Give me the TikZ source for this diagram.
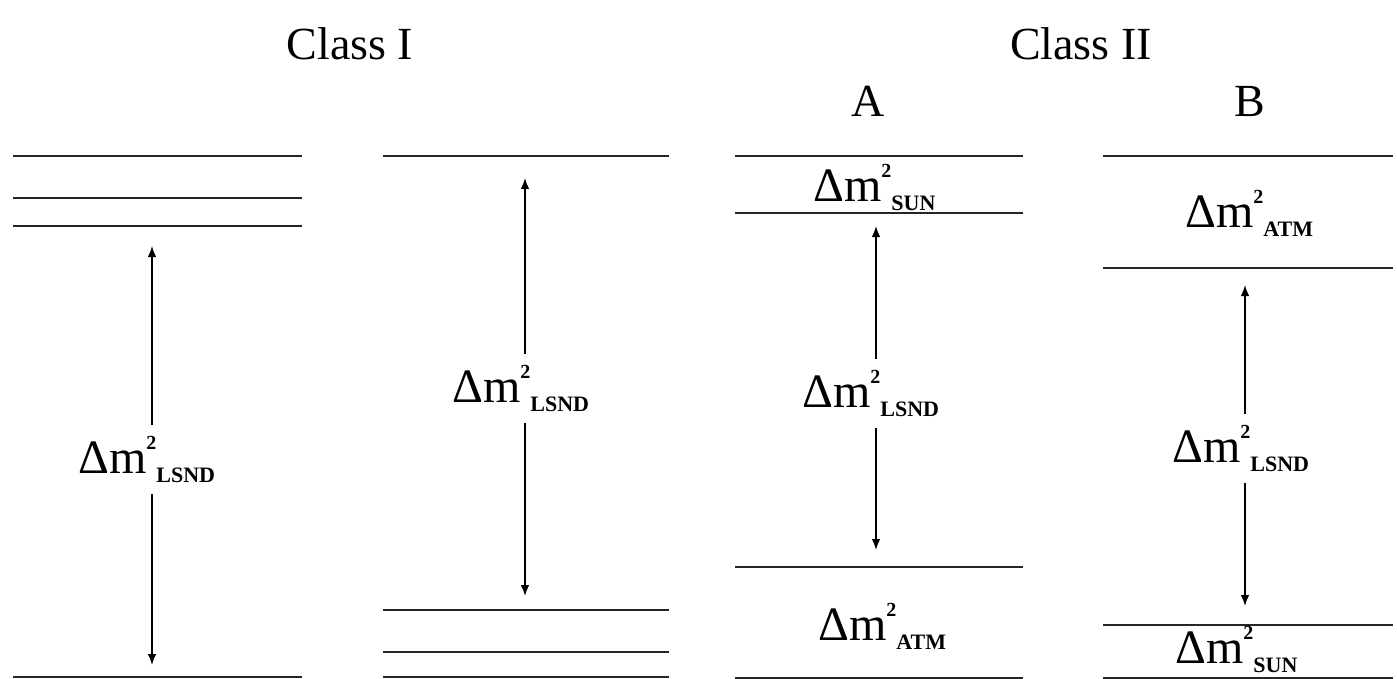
\documentclass[tikz,border=0pt]{standalone}
\usepackage{fontspec}
\setmainfont{Liberation Serif}
\usetikzlibrary{arrows.meta}
\newcommand\dmlab[1]{Δm\raisebox{0.5em}{\fontsize{20}{20}\selectfont\bfseries 2}\raisebox{-0.2em}{\fontsize{22}{22}\selectfont\bfseries #1}}
\tikzset{
  level/.style={line width=1.9pt, draw=black!85},
  arr/.style={line width=1.4pt, draw=black, -{Latex[length=11pt,width=8.5pt]}},
  dm/.style={anchor=base west, inner xsep=0pt, inner ysep=11pt, font=\fontsize{48}{48}\selectfont},
  title/.style={anchor=base, inner sep=0pt, font=\fontsize{46}{46}\selectfont},
}
\begin{document}
\begin{tikzpicture}[x=1pt,y=-1pt]
\useasboundingbox (0,0) rectangle (1397,679);
% titles
\node[title] (c1) at (350,60) {Class I};
\node[title] (c2) at (1081,60) {Class II};
\node[title] (ta) at (868,117) {A};
\node[title] (tb) at (1250,117) {B};

% ---------- Column 1 ----------
\foreach \y/\n in {156/a,198/b,226/c,677/d}{
  \coordinate (l1\n w) at (13,\y); \coordinate (l1\n e) at (302,\y);
  \draw[level] (l1\n w) -- (l1\n e);}
\coordinate (t1) at (152,246);
\coordinate (b1) at (152,665);
\node[dm] (d1) at (78,473) {\dmlab{LSND}};
\draw[arr] (d1.north -| t1) -- (t1);
\draw[arr] (d1.south -| b1) -- (b1);

% ---------- Column 2 ----------
\foreach \y/\n in {156/a,610/b,652/c,677/d}{
  \coordinate (l2\n w) at (383,\y); \coordinate (l2\n e) at (669,\y);
  \draw[level] (l2\n w) -- (l2\n e);}
\coordinate (t2) at (525,178);
\coordinate (b2) at (525,596);
\node[dm] (d2) at (452,402) {\dmlab{LSND}};
\draw[arr] (d2.north -| t2) -- (t2);
\draw[arr] (d2.south -| b2) -- (b2);

% ---------- Column 3 (A) ----------
\foreach \y/\n in {156/a,213/b,567/c,678/d}{
  \coordinate (l3\n w) at (735,\y); \coordinate (l3\n e) at (1023,\y);
  \draw[level] (l3\n w) -- (l3\n e);}
\coordinate (t3) at (876,226);
\coordinate (b3) at (876,550);
\node[dm] (s3) at (813,201) {\dmlab{SUN}};
\node[dm] (d3) at (802,407) {\dmlab{LSND}};
\node[dm] (a3) at (818,640) {\dmlab{ATM}};
\draw[arr] (d3.north -| t3) -- (t3);
\draw[arr] (d3.south -| b3) -- (b3);

% ---------- Column 4 (B) ----------
\foreach \y/\n in {156/a,268/b,625/c,678/d}{
  \coordinate (l4\n w) at (1103,\y); \coordinate (l4\n e) at (1393,\y);
  \draw[level] (l4\n w) -- (l4\n e);}
\coordinate (t4) at (1245,285);
\coordinate (b4) at (1245,606);
\node[dm] (a4) at (1185,227) {\dmlab{ATM}};
\node[dm] (d4) at (1172,462) {\dmlab{LSND}};
\node[dm] (s4) at (1175,663) {\dmlab{SUN}};
\draw[arr] (d4.north -| t4) -- (t4);
\draw[arr] (d4.south -| b4) -- (b4);
\end{tikzpicture}
\end{document}
